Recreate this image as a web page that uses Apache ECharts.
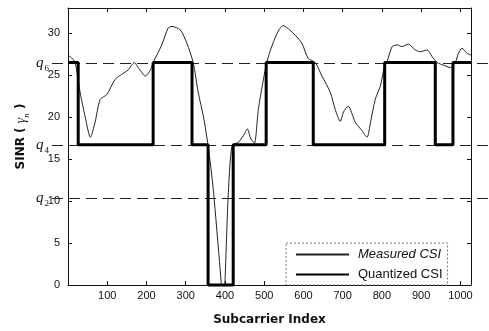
<!DOCTYPE html>
<html>
<head>
<meta charset="utf-8">
<script src="https://cdn.jsdelivr.net/npm/echarts@6/dist/echarts.min.js"></script>
<style>
  html, body { margin: 0; padding: 0; background: #fff; }
  #chart { width: 489px; height: 331px; }
</style>
</head>
<body>
<div id="chart"></div>
<script>
// measured SINR curve
const measuredX = [0, 6, 18, 31, 44, 57, 69, 82, 99, 120, 137, 153, 169, 179, 197, 210, 217, 239, 255, 265,
  286, 303, 319, 332, 345, 357, 370, 383, 396, 408, 418, 434, 447, 457, 466, 475, 485, 498, 507, 516,
  533, 548, 574, 596, 612, 630, 647, 669, 681, 694, 702, 714, 732, 749, 762, 771, 783, 796, 806, 813,
  826, 839, 851, 867, 885, 898, 915, 928, 941, 956, 975, 987, 995, 1004, 1017, 1027];
const measuredY = [27.3, 27.2, 26.5, 22.9, 20.0, 17.6, 19.4, 22.1, 22.7, 24.5, 25.1, 25.6, 26.5, 25.9, 24.9, 25.6, 26.5, 28.6, 30.6, 30.8,
  30.4, 28.8, 26.5, 22.9, 20.1, 16.6, 11.5, 4.5, -2, 10.4, 16.6, 17, 17.8, 18.6, 17.4, 16.9, 20.9, 24.5, 26.6, 28,
  30, 30.9, 30, 28.8, 27, 26.5, 24.9, 22.9, 20.9, 19.5, 20.6, 21.3, 19.4, 18.4, 17.6, 19.4, 22.1, 23.7, 25.9, 26.6,
  28.4, 28.6, 28.4, 28.7, 28, 27.8, 28, 27.2, 26.5, 26.2, 25.9, 26.5, 27.6, 28.2, 27.6, 27.4];

// quantization thresholds
const qNames = ['6', '4', '2'];
const qValues = [26.5, 16.7, 10.35];
const q6 = qValues[0], q4 = qValues[1];

// quantized CSI: segment edges and the level held on each segment
const qEdges = [0, 26, 217, 316, 357, 421, 505, 625, 807, 936, 981, 1027];
const qLevels = [q6, q4, q6, q4, 0, q4, q6, q4, q6, q4, q6];

const xMin = 0, xMax = 1027, xStep = 100;
const yMin = 0, yMax = 33, yStep = 5;

const measuredData = measuredX.map((x, i) => [x, measuredY[i]]);
const quantData = qEdges.map((x, i) => [x, qLevels[Math.min(i, qLevels.length - 1)]]);

const chart = echarts.init(document.getElementById('chart'));

const tickFont = { color: '#111', fontSize: 11, fontFamily: 'Liberation Sans, Arial, sans-serif' };
const legendFont = { fontSize: 13, color: '#111', fontFamily: 'Liberation Sans, Arial, sans-serif', padding: [0, 0, 0, 4] };

chart.setOption({
  animation: false,
  backgroundColor: '#fff',
  grid: { left: 68, top: 8, width: 403, height: 280 },
  legend: {
    orient: 'vertical',
    left: 286,
    top: 243,
    padding: [5, 5, 4, 9],
    itemGap: 7,
    itemWidth: 53,
    itemHeight: 12,
    borderColor: '#777',
    borderWidth: 1,
    borderType: [2, 2],
    backgroundColor: '#fff',
    itemStyle: { opacity: 0, color: 'transparent', borderWidth: 0 },
    data: ['Measured CSI', 'Quantized CSI'],
    formatter: name => name === 'Measured CSI' ? '{it|' + name + '}' : '{up|' + name + '}',
    textStyle: {
      color: '#111',
      fontSize: 13,
      fontFamily: 'Liberation Sans, Arial, sans-serif',
      rich: {
        it: Object.assign({ fontStyle: 'italic' }, legendFont),
        up: legendFont
      }
    }
  },
  xAxis: [
    {
      type: 'value',
      min: xMin, max: xMax, interval: xStep,
      name: 'Subcarrier Index',
      nameLocation: 'middle',
      nameGap: 29,
      nameTextStyle: { color: '#111', fontSize: 12, fontWeight: 'bold', fontFamily: 'DejaVu Sans, sans-serif' },
      axisLine: { onZero: false, lineStyle: { color: '#111', width: 1 } },
      axisTick: { inside: true, length: 4, lineStyle: { color: '#111' } },
      axisLabel: Object.assign({ margin: 5, showMinLabel: false, showMaxLabel: false, formatter: v => String(v) }, tickFont),
      splitLine: { show: false }
    },
    {
      type: 'value', position: 'top',
      min: xMin, max: xMax, interval: xStep,
      axisLine: { onZero: false, lineStyle: { color: '#111', width: 1 } },
      axisTick: { inside: true, length: 4, lineStyle: { color: '#111' } },
      axisLabel: { show: false },
      splitLine: { show: false }
    }
  ],
  yAxis: [
    {
      type: 'value',
      min: yMin, max: yMax, interval: yStep,
      name: '{b|SINR ( }{g|γ}{n|n}{b| )}',
      nameLocation: 'middle',
      nameGap: 40,
      nameTextStyle: {
        padding: [0, 0, 0, 20],
        rich: {
          b: { fontSize: 12, fontWeight: 'bold', color: '#111', fontFamily: 'DejaVu Sans, sans-serif' },
          g: { fontSize: 14, fontStyle: 'italic', color: '#111', fontFamily: 'Liberation Serif, serif' },
          n: { fontSize: 9, fontStyle: 'italic', color: '#111', fontFamily: 'Liberation Serif, serif', verticalAlign: 'bottom', padding: [0, 0, -3, 0] }
        }
      },
      axisLine: { onZero: false, lineStyle: { color: '#111', width: 1 } },
      axisTick: { inside: true, length: 4, lineStyle: { color: '#111' } },
      axisLabel: Object.assign({ margin: 8, showMaxLabel: false }, tickFont),
      splitLine: { show: false }
    },
    {
      type: 'value', position: 'right',
      min: yMin, max: yMax, interval: yStep,
      axisLine: { onZero: false, lineStyle: { color: '#111', width: 1 } },
      axisTick: { inside: true, length: 4, lineStyle: { color: '#111' } },
      axisLabel: { show: false },
      splitLine: { show: false }
    }
  ],
  series: [
    {
      name: 'Measured CSI',
      type: 'line',
      data: measuredData,
      smooth: 0.25,
      showSymbol: false,
      symbol: 'none',
      clip: true,
      lineStyle: { color: '#222', width: 1 },
      itemStyle: { color: '#222' },
      z: 3
    },
    {
      name: 'Quantized CSI',
      type: 'line',
      data: quantData,
      step: 'end',
      showSymbol: false,
      symbol: 'none',
      clip: false,
      lineStyle: { color: '#000', width: 3 },
      itemStyle: { color: '#000' },
      z: 4
    }
  ]
});

// threshold lines run past the plot frame, so place them from the y scale
const threshGraphics = [];
qValues.forEach((v, i) => {
  const py = Math.round(chart.convertToPixel({ yAxisIndex: 0 }, v)) + 0.5;
  threshGraphics.push({
    type: 'line',
    silent: true,
    z: 1,
    shape: { x1: 52, y1: py, x2: 489, y2: py },
    style: { stroke: '#222', lineWidth: 1.2, lineDash: [11, 6] }
  });
  threshGraphics.push({
    type: 'text',
    silent: true,
    z: 5,
    style: {
      x: 49, y: py,
      text: '{q|q}{s|' + qNames[i] + '}',
      align: 'right',
      verticalAlign: 'middle',
      rich: {
        q: { fontSize: 15, fontStyle: 'italic', fill: '#111', fontFamily: 'Liberation Serif, serif' },
        s: { fontSize: 9, fill: '#111', fontFamily: 'Liberation Serif, serif', verticalAlign: 'bottom', padding: [0, 0, -2, 1] }
      }
    }
  });
});
chart.setOption({ graphic: threshGraphics });
</script>
</body>
</html>
